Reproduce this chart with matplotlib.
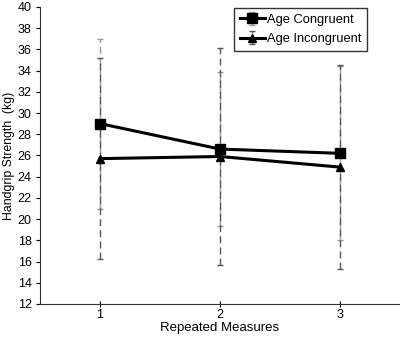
import matplotlib
matplotlib.use("Agg")
import matplotlib.pyplot as plt

measures = [1, 2, 3]
congruent = [29.0, 26.6, 26.2]
congruent_sd = [8.0, 7.25, 8.2]
incongruent = [25.7, 25.9, 24.9]
incongruent_sd = [9.5, 10.2, 9.6]

plt.rcParams['font.family'] = ['Liberation Sans', 'DejaVu Sans']

fig = plt.figure(figsize=(4.0, 3.38), dpi=100)
ax = fig.add_axes([0.1, 0.1006, 0.9, 0.879])

e1 = ax.errorbar(measures, congruent, yerr=congruent_sd, color='black', lw=2.2,
                 marker='s', ms=6.5, mfc='black', ecolor='#9a9a9a', elinewidth=1.0,
                 capsize=2.5, capthick=1.0, label='Age Congruent', zorder=3)
e1[2][0].set_linestyle((0, (5, 3)))
e2 = ax.errorbar(measures, incongruent, yerr=incongruent_sd, color='black', lw=2.2,
                 marker='^', ms=6, mfc='black', ecolor='#555555', elinewidth=1.0,
                 capsize=2.5, capthick=1.0, label='Age Incongruent', zorder=3)
e2[2][0].set_linestyle((0, (5, 3)))

ax.set_xlim(0.5, 3.5)
ax.set_ylim(12, 40)
ax.set_yticks(range(12, 41, 2))
ax.set_xticks(measures)
ax.spines['top'].set_visible(False)
ax.spines['right'].set_visible(False)
ax.spines['left'].set_color('#333333')
ax.spines['bottom'].set_color('#333333')
ax.tick_params(axis='y', direction='out', length=3, labelsize=9, pad=3)
ax.tick_params(axis='x', direction='inout', length=5, labelsize=9, pad=1)
ax.set_xlabel('Repeated Measures', fontsize=9.5, labelpad=1)
ax.set_ylabel('Handgrip Strength  (kg)', fontsize=8.8, labelpad=2)

leg = ax.legend(loc='upper right', bbox_to_anchor=(0.908, 0.997), fontsize=9.3,
                frameon=True, fancybox=False, edgecolor='black', handlelength=2.0,
                borderpad=0.45, labelspacing=0.6, handletextpad=0.1,
                borderaxespad=0)
leg.get_frame().set_linewidth(1.0)

fig.savefig('out.png', dpi=100)
